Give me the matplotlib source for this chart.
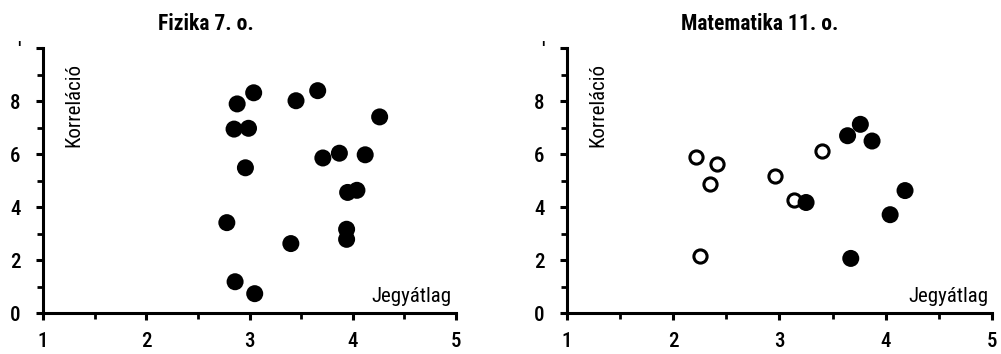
import matplotlib
matplotlib.use("Agg")
import matplotlib.pyplot as plt
from matplotlib.ticker import FixedLocator, MultipleLocator

plt.rcParams['font.family'] = ['Roboto Condensed', 'Liberation Sans', 'DejaVu Sans']

# Data
fiz_x = [2.88, 3.04, 2.85, 2.99, 2.96, 3.45, 3.66, 4.26, 3.71, 3.87, 4.12, 3.95, 4.04, 2.78, 3.40, 3.94, 3.94, 2.86, 3.05]
fiz_y = [7.89, 8.31, 6.94, 6.97, 5.48, 8.01, 8.39, 7.40, 5.85, 6.03, 5.97, 4.55, 4.63, 3.41, 2.62, 3.16, 2.78, 1.18, 0.73]

mat_open_x = [2.22, 2.41, 2.35, 2.25, 2.96, 3.14, 3.40]
mat_open_y = [5.87, 5.61, 4.87, 2.16, 5.18, 4.25, 6.10]
mat_fill_x = [3.25, 3.64, 3.76, 3.87, 4.18, 4.04, 3.67]
mat_fill_y = [4.17, 6.69, 7.12, 6.49, 4.62, 3.71, 2.06]

titles = ["Fizika 7. o.", "Matematika 11. o."]
xlabel = "Jegyátlag"
ylabel = "Korreláció"
xticks = [1, 2, 3, 4, 5]
yticks = [0, 2, 4, 6, 8, 10]
yticklabels = ["0", "2", "4", "6", "8", "'"]

fig = plt.figure(figsize=(10.01, 3.54), dpi=100)
ax1 = fig.add_axes([0.043, 0.1158, 0.4126, 0.7486])
ax2 = fig.add_axes([0.5661, 0.1158, 0.4252, 0.7486])

ax1.scatter(fiz_x, fiz_y, s=150, c='black', edgecolors='none', zorder=3, clip_on=False)
ax2.scatter(mat_open_x, mat_open_y, s=90, facecolors='white', edgecolors='black', linewidths=2.2, zorder=3, clip_on=False)
ax2.scatter(mat_fill_x, mat_fill_y, s=150, c='black', edgecolors='none', zorder=3, clip_on=False)

title_x = [0.395, 0.454]

for ax, t, tx in zip([ax1, ax2], titles, title_x):
    ax.set_xlim(1, 5)
    ax.set_ylim(0, 10)
    for s in ['top', 'right']:
        ax.spines[s].set_visible(False)
    for s in ['left', 'bottom']:
        ax.spines[s].set_linewidth(2.2)
    ax.xaxis.set_major_locator(FixedLocator(xticks))
    ax.xaxis.set_minor_locator(MultipleLocator(0.5))
    ax.yaxis.set_major_locator(FixedLocator(yticks))
    ax.yaxis.set_minor_locator(MultipleLocator(1))
    ax.set_yticklabels(yticklabels)
    ax.tick_params(axis='x', which='major', direction='out', length=5, width=2.2, pad=9, labelsize=15)
    ax.tick_params(axis='x', which='minor', direction='out', length=4, width=2.0)
    ax.tick_params(axis='y', which='major', direction='out', length=5, width=2.2, pad=11, labelsize=15)
    ax.tick_params(axis='y', which='minor', direction='out', length=4, width=2.0)
    for lab in ax.get_xticklabels() + ax.get_yticklabels():
        lab.set_fontweight('medium')
    ax.set_title(t, fontsize=15.5, fontweight='bold', pad=13, x=tx)
    ax.text(0.99, 0.025, xlabel, transform=ax.transAxes, ha='right', va='bottom', fontsize=15)
    ax.text(0.052, 0.945, ylabel, transform=ax.transAxes, ha='left', va='top', rotation=90, fontsize=15)

fig.savefig("out.png", dpi=100)
